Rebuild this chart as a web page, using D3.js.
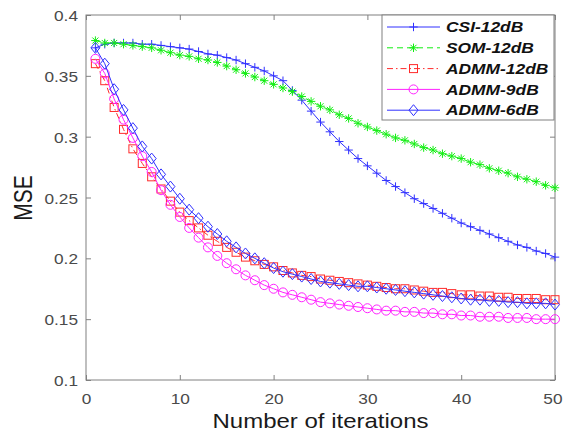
<!DOCTYPE html>
<html><head><meta charset="utf-8">
<script src="https://cdn.jsdelivr.net/npm/d3@7"></script>
<style>body{margin:0;background:#fff}svg{display:block}</style>
</head><body>
<svg id="c" width="563" height="432"></svg>
<script>
const iterations = d3.range(1, 51);
const csi12 = [.373,.376,.377,.377,.377,.376,.376,.375,.374,.373,.372,.370,.368,.367,.365,.363,.360,.357,.354,.350,.346,.338,.330,.321,.312,.304,.296,.289,.282,.276,.270,.264,.259,.254,.249,.245,.241,.237,.233,.229,.226,.223,.220,.217,.214,.211,.209,.206,.204,.201];
const som12 = [.379,.377,.377,.376,.375,.374,.373,.371,.369,.367,.366,.364,.363,.361,.358,.355,.352,.349,.346,.343,.340,.337,.333,.329,.325,.322,.318,.315,.311,.308,.305,.302,.299,.297,.294,.291,.289,.286,.284,.282,.279,.277,.274,.272,.270,.267,.265,.263,.260,.258];
const admm12 = [.360,.346,.324,.306,.290,.278,.267,.257,.247,.238,.231,.225,.219,.214,.209,.205,.201,.198,.195,.193,.190,.188,.186,.185,.183,.182,.181,.180,.179,.178,.177,.176,.175,.175,.174,.173,.172,.172,.171,.170,.170,.169,.169,.168,.168,.167,.167,.167,.166,.166];
const admm9 = [.364,.352,.331,.314,.299,.284,.271,.256,.244,.234,.225,.217,.209,.202,.196,.191,.186,.182,.178,.175,.172,.170,.168,.166,.164,.163,.162,.161,.160,.159,.158,.157,.157,.156,.156,.155,.155,.154,.154,.153,.153,.152,.152,.152,.151,.151,.151,.150,.150,.150];
const admm6 = [.373,.360,.339,.322,.307,.292,.282,.269,.259,.249,.240,.233,.226,.220,.214,.209,.204,.200,.196,.192,.189,.187,.185,.183,.181,.180,.179,.178,.177,.177,.176,.175,.174,.173,.172,.171,.170,.169,.168,.167,.166,.166,.165,.165,.164,.164,.163,.163,.163,.162];
const seriesNames = ["CSI-12dB","SOM-12dB","ADMM-12dB","ADMM-9dB","ADMM-6dB"];
const xTicks = [0,10,20,30,40,50];
const yTicks = [0.1,0.15,0.2,0.25,0.3,0.35,0.4];
const xTitle = "Number of iterations";
const yTitle = "MSE";

const series = [
  {name: seriesNames[0], values: csi12, color: "#3030ff", dash: null, marker: "plus"},
  {name: seriesNames[1], values: som12, color: "#11ee11", dash: "6,4", marker: "star"},
  {name: seriesNames[2], values: admm12, color: "#ff2a2a", dash: "6,3,1.5,3", marker: "square"},
  {name: seriesNames[3], values: admm9, color: "#ff22ff", dash: null, marker: "circle"},
  {name: seriesNames[4], values: admm6, color: "#3030ff", dash: null, marker: "diamond"}
];

const L = 86, R = 555, T = 15, B = 380;
const x = d3.scaleLinear().domain([0, 50]).range([L, R]);
const y = d3.scaleLinear().domain([0.1, 0.4]).range([B, T]);
const svg = d3.select("#c");
const axisCol = "#808080", tickTxt = "#4a4a4a";

svg.append("rect").attr("x", L).attr("y", T).attr("width", R - L).attr("height", B - T)
  .attr("fill", "none").attr("stroke", axisCol).attr("stroke-width", 1);

const gx = svg.append("g").attr("transform", `translate(0,${B})`)
  .call(d3.axisBottom(x).tickValues(xTicks).tickSizeInner(-5).tickSizeOuter(0).tickPadding(0).tickFormat(d3.format("d")));
gx.select(".domain").remove();
gx.selectAll(".tick line").attr("stroke", axisCol);
gx.selectAll(".tick text").text(null);
gx.selectAll(".tick").each(function(d){
  const last = d === xTicks[xTicks.length - 1];
  d3.select(this).append("text").attr("transform", `translate(${last ? 7 : 0},24) scale(1.15,1)`)
    .attr("text-anchor", last ? "end" : "middle").attr("fill", tickTxt)
    .style("font", "15px 'Liberation Sans', Arial, sans-serif").text(d);
});
const gt = svg.append("g").attr("transform", `translate(0,${T})`)
  .call(d3.axisTop(x).tickValues(xTicks).tickSizeInner(-5).tickSizeOuter(0).tickFormat(""));
gt.select(".domain").remove(); gt.selectAll(".tick line").attr("stroke", axisCol);

const gy = svg.append("g").attr("transform", `translate(${L},0)`)
  .call(d3.axisLeft(y).tickValues(yTicks).tickSizeInner(-5).tickSizeOuter(0).tickFormat(""));
gy.select(".domain").remove(); gy.selectAll(".tick line").attr("stroke", axisCol);
gy.selectAll(".tick").each(function(d){
  d3.select(this).append("text").attr("transform", "translate(-8,5.5) scale(1.15,1)")
    .attr("text-anchor", "end").attr("fill", tickTxt)
    .style("font", "15px 'Liberation Sans', Arial, sans-serif").text(d3.format("~g")(d));
});
const gr = svg.append("g").attr("transform", `translate(${R},0)`)
  .call(d3.axisRight(y).tickValues(yTicks).tickSizeInner(-5).tickSizeOuter(0).tickFormat(""));
gr.select(".domain").remove(); gr.selectAll(".tick line").attr("stroke", axisCol);

svg.append("text").attr("transform", `translate(${(L+R)/2},428) scale(1.2,1)`)
  .attr("text-anchor", "middle").attr("fill", "#1a1a1a")
  .style("font", "20px 'Liberation Sans', Arial, sans-serif").text(xTitle);
svg.append("text").attr("transform", `translate(32,198) scale(1.2,1) rotate(-90)`)
  .attr("text-anchor", "middle").attr("fill", "#1a1a1a")
  .style("font", "21px 'Liberation Sans', Arial, sans-serif").text(yTitle);

function drawMarker(g, type, cx, cy, color) {
  const s = 4.2;
  if (type === "plus") {
    g.append("path").attr("d", `M${cx-s},${cy}H${cx+s}M${cx},${cy-s}V${cy+s}`).attr("stroke", color).attr("fill", "none");
  } else if (type === "star") {
    const d = s*0.72;
    g.append("path").attr("d", `M${cx-s},${cy}H${cx+s}M${cx},${cy-s}V${cy+s}M${cx-d},${cy-d}L${cx+d},${cy+d}M${cx-d},${cy+d}L${cx+d},${cy-d}`)
      .attr("stroke", color).attr("fill", "none");
  } else if (type === "square") {
    g.append("rect").attr("x", cx-4).attr("y", cy-4).attr("width", 8).attr("height", 8).attr("stroke", color).attr("fill", "none");
  } else if (type === "circle") {
    g.append("circle").attr("cx", cx).attr("cy", cy).attr("r", 4.5).attr("stroke", color).attr("fill", "none");
  } else if (type === "diamond") {
    g.append("path").attr("d", `M${cx},${cy-5.5}L${cx+4.5},${cy}L${cx},${cy+5.5}L${cx-4.5},${cy}Z`).attr("stroke", color).attr("fill", "none");
  }
}

const line = d3.line().x((d, i) => x(iterations[i])).y(d => y(d));
series.forEach(s => {
  const g = svg.append("g");
  g.append("path").datum(s.values).attr("d", line).attr("fill", "none")
    .attr("stroke", s.color).attr("stroke-width", 1).attr("stroke-dasharray", s.dash);
  s.values.forEach((v, i) => drawMarker(g, s.marker, x(iterations[i]), y(v), s.color));
});

const lg = svg.append("g");
lg.append("rect").attr("x", 382).attr("y", T).attr("width", 172).attr("height", 105)
  .attr("fill", "#fff").attr("stroke", axisCol);
series.forEach((s, i) => {
  const cy = 27 + i * 20.8;
  const g = lg.append("g");
  g.append("line").attr("x1", 387).attr("x2", 440).attr("y1", cy).attr("y2", cy)
    .attr("stroke", s.color).attr("stroke-dasharray", s.dash);
  drawMarker(g, s.marker, 413.5, cy, s.color);
  g.append("text").attr("transform", `translate(446,${cy+5.2}) scale(1.2,1)`)
    .attr("fill", "#111").style("font", "italic bold 14.5px 'Liberation Sans', Arial, sans-serif").text(s.name);
});
</script>
</body></html>
